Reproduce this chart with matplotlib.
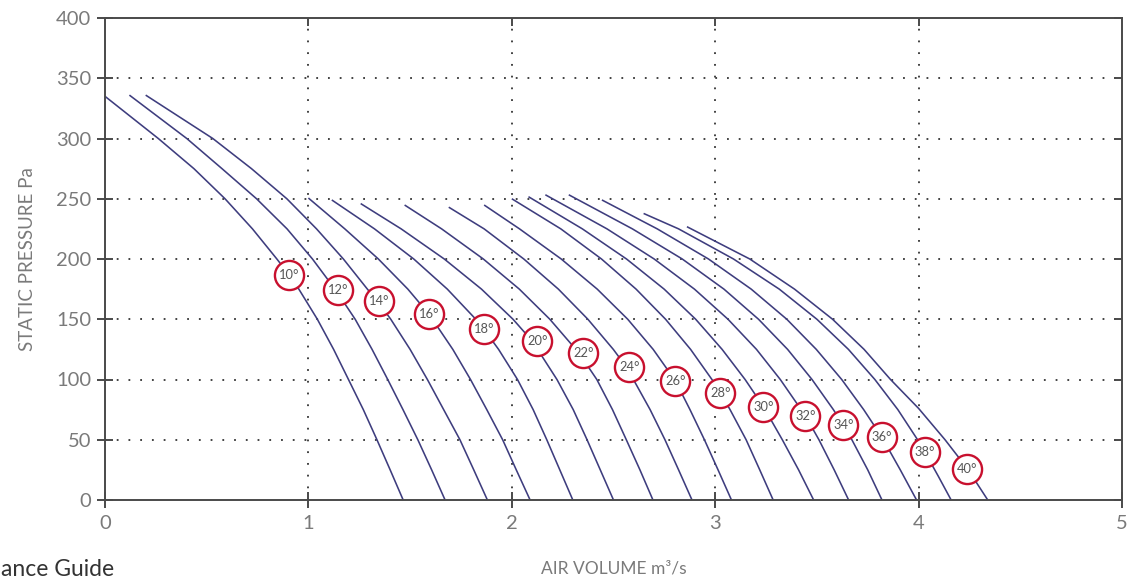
import matplotlib
matplotlib.use('Agg')
import matplotlib.pyplot as plt

# ---- data ----
angles = [10, 12, 14, 16, 18, 20, 22, 24, 26, 28, 30, 32, 34, 36, 38, 40]

x10 = [0.0, 0.262, 0.437, 0.59, 0.725, 0.845, 0.905, 0.953, 1.044, 1.124, 1.197, 1.27, 1.337, 1.402, 1.466]
p10 = [335, 300, 275, 250, 225, 200, 187, 175, 150, 125, 100, 75, 50, 25, 0]
x12 = [0.12, 0.402, 0.575, 0.745, 0.895, 1.02, 1.135, 1.23, 1.313, 1.39, 1.465, 1.538, 1.606, 1.672]
p12 = [336, 300, 275, 250, 225, 200, 174, 150, 125, 100, 75, 50, 25, 0]
x14 = [0.2, 0.53, 0.72, 0.894, 1.04, 1.172, 1.29, 1.34, 1.405, 1.50, 1.585, 1.665, 1.745, 1.813, 1.88]
p14 = [336, 300, 275, 250, 225, 200, 175, 165, 150, 125, 100, 75, 50, 25, 0]
x16 = [1.0, 1.179, 1.344, 1.489, 1.594, 1.71, 1.797, 1.877, 1.955, 2.022, 2.09]
p16 = [250.6, 225, 200, 175, 154, 125, 100, 75, 50, 25, 0]
x18 = [1.115, 1.325, 1.518, 1.683, 1.823, 1.864, 1.935, 2.028, 2.105, 2.172, 2.236, 2.30]
p18 = [249, 225, 200, 175, 150, 141.5, 125, 100, 75, 50, 25, 0]
x20 = [1.257, 1.456, 1.668, 1.851, 2.006, 2.10, 2.222, 2.302, 2.37, 2.435, 2.50]
p20 = [246, 225, 200, 175, 150, 132, 100, 75, 50, 25, 0]
x22 = [1.473, 1.655, 1.86, 2.037, 2.187, 2.33, 2.418, 2.495, 2.563, 2.63, 2.694]
p22 = [244.8, 225, 200, 175, 150, 122, 100, 75, 50, 25, 0]
x24 = [1.69, 1.864, 2.059, 2.229, 2.374, 2.499, 2.565, 2.68, 2.753, 2.82, 2.886]
p24 = [243, 225, 200, 175, 150, 125, 110, 75, 50, 25, 0]
x26 = [1.864, 2.038, 2.243, 2.42, 2.57, 2.695, 2.804, 2.876, 2.947, 3.014, 3.08]
p26 = [244.8, 225, 200, 175, 150, 125, 99, 75, 50, 25, 0]
x28 = [2.0, 2.241, 2.441, 2.611, 2.756, 2.879, 2.984, 3.025, 3.073, 3.152, 3.219, 3.285]
p28 = [250, 225, 200, 175, 150, 125, 100, 89, 75, 50, 25, 0]
x30 = [2.082, 2.347, 2.564, 2.749, 2.904, 3.034, 3.147, 3.237, 3.33, 3.41, 3.484]
p30 = [251.7, 225, 200, 175, 150, 125, 100, 77.5, 50, 25, 0]
x32 = [2.165, 2.468, 2.70, 2.898, 3.063, 3.203, 3.32, 3.443, 3.51, 3.585, 3.656]
p32 = [253.3, 225, 200, 175, 150, 125, 100, 70, 50, 25, 0]
x34 = [2.28, 2.593, 2.838, 3.043, 3.213, 3.356, 3.476, 3.581, 3.63, 3.672, 3.75, 3.82]
p34 = [253.3, 225, 200, 175, 150, 125, 100, 75, 62, 50, 25, 0]
x36 = [2.443, 2.715, 2.967, 3.177, 3.352, 3.497, 3.622, 3.73, 3.82, 3.91, 3.99]
p36 = [249, 225, 200, 175, 150, 125, 100, 75, 52, 25, 0]
x38 = [2.648, 2.82, 3.09, 3.315, 3.50, 3.655, 3.785, 3.898, 3.995, 4.03, 4.096, 4.16]
p38 = [237.8, 225, 200, 175, 150, 125, 100, 75, 50, 40, 20, 0]
x40 = [2.861, 3.17, 3.39, 3.577, 3.732, 3.862, 4.0, 4.13, 4.24, 4.34]
p40 = [226.8, 200, 175, 150, 125, 100, 76, 50, 26, 0]

curves_x = [x10, x12, x14, x16, x18, x20, x22, x24, x26, x28, x30, x32, x34, x36, x38, x40]
curves_p = [p10, p12, p14, p16, p18, p20, p22, p24, p26, p28, p30, p32, p34, p36, p38, p40]

label_x = [0.905, 1.146, 1.348, 1.594, 1.864, 2.125, 2.351, 2.578, 2.804, 3.025,
           3.237, 3.443, 3.63, 3.82, 4.03, 4.24]
label_p = [187, 174, 165, 154, 141.5, 132, 122, 110, 99, 89, 77.5, 70, 62, 52, 40, 26]

x_ticks = [0, 1, 2, 3, 4, 5]
y_ticks = [0, 50, 100, 150, 200, 250, 300, 350, 400]

# ---- styling ----
LINE = '#3e3d7e'
RED = '#c8102e'
GREY_TXT = '#7a7a7a'
AXC = '#4a4a4a'
FONT = 'Lato'

fig = plt.figure(figsize=(11.3, 5.81), dpi=100)
ax = fig.add_axes([105 / 1130, 1 - 500 / 581, (1122 - 105) / 1130, (500 - 18) / 581])

ax.set_xlim(0, 5)
ax.set_ylim(0, 400)

# dotted grid
for gx in x_ticks[1:-1]:
    ax.axvline(gx, color='#333333', lw=1.3, ls=(0, (1, 5.5)), zorder=1)
for gy in y_ticks[1:-1]:
    ax.axhline(gy, color='#333333', lw=1.3, ls=(0, (1, 5.5)), zorder=1)

for xs, ps in zip(curves_x, curves_p):
    ax.plot(xs, ps, color=LINE, lw=1.15, zorder=2, solid_capstyle='butt',
            solid_joinstyle='round')

ax.scatter(label_x, label_p, s=440, facecolor='white', edgecolor=RED,
           linewidth=1.7, zorder=4)
for a, lx, lp in zip(angles, label_x, label_p):
    ax.text(lx, lp, f'{a}°', ha='center', va='center', fontsize=9.3,
            color='#555555', family=FONT, zorder=5)

for s in ax.spines.values():
    s.set_color(AXC)
    s.set_linewidth(1.4)

ax.set_xticks(x_ticks)
ax.set_yticks(y_ticks)
ax.set_xticklabels([str(v) for v in x_ticks])
ax.set_yticklabels([str(v) for v in y_ticks])
ax.tick_params(axis='both', direction='inout', length=12, width=1.4,
               color=AXC, labelcolor=GREY_TXT, labelsize=14.5)
ax.tick_params(axis='y', pad=4)
ax.tick_params(axis='x', pad=5)
for lab in ax.get_xticklabels() + ax.get_yticklabels():
    lab.set_family(FONT)

# inward ticks on the right and top frame
axr = ax.twinx()
axr.set_ylim(0, 400)
axr.set_yticks(y_ticks)
axr.tick_params(axis='y', direction='in', length=6, width=1.4, color=AXC,
                labelright=False)
axt = ax.twiny()
axt.set_xlim(0, 5)
axt.set_xticks(x_ticks[1:-1])
axt.tick_params(axis='x', direction='in', length=6, width=1.4, color=AXC,
                labeltop=False)
for a2 in (axr, axt):
    for s in a2.spines.values():
        s.set_visible(False)

ax.set_ylabel('STATIC PRESSURE Pa', fontsize=13.5, color=GREY_TXT, family=FONT,
              labelpad=14)
ax.set_xlabel('AIR VOLUME m³/s', fontsize=12.5, color=GREY_TXT, family=FONT,
              labelpad=20)

fig.text(1 / 1130, 1 - 569 / 581, 'ance Guide', ha='left', va='center',
         fontsize=16.5, color='#333333', family=FONT)

fig.savefig('out.png', dpi=100)
